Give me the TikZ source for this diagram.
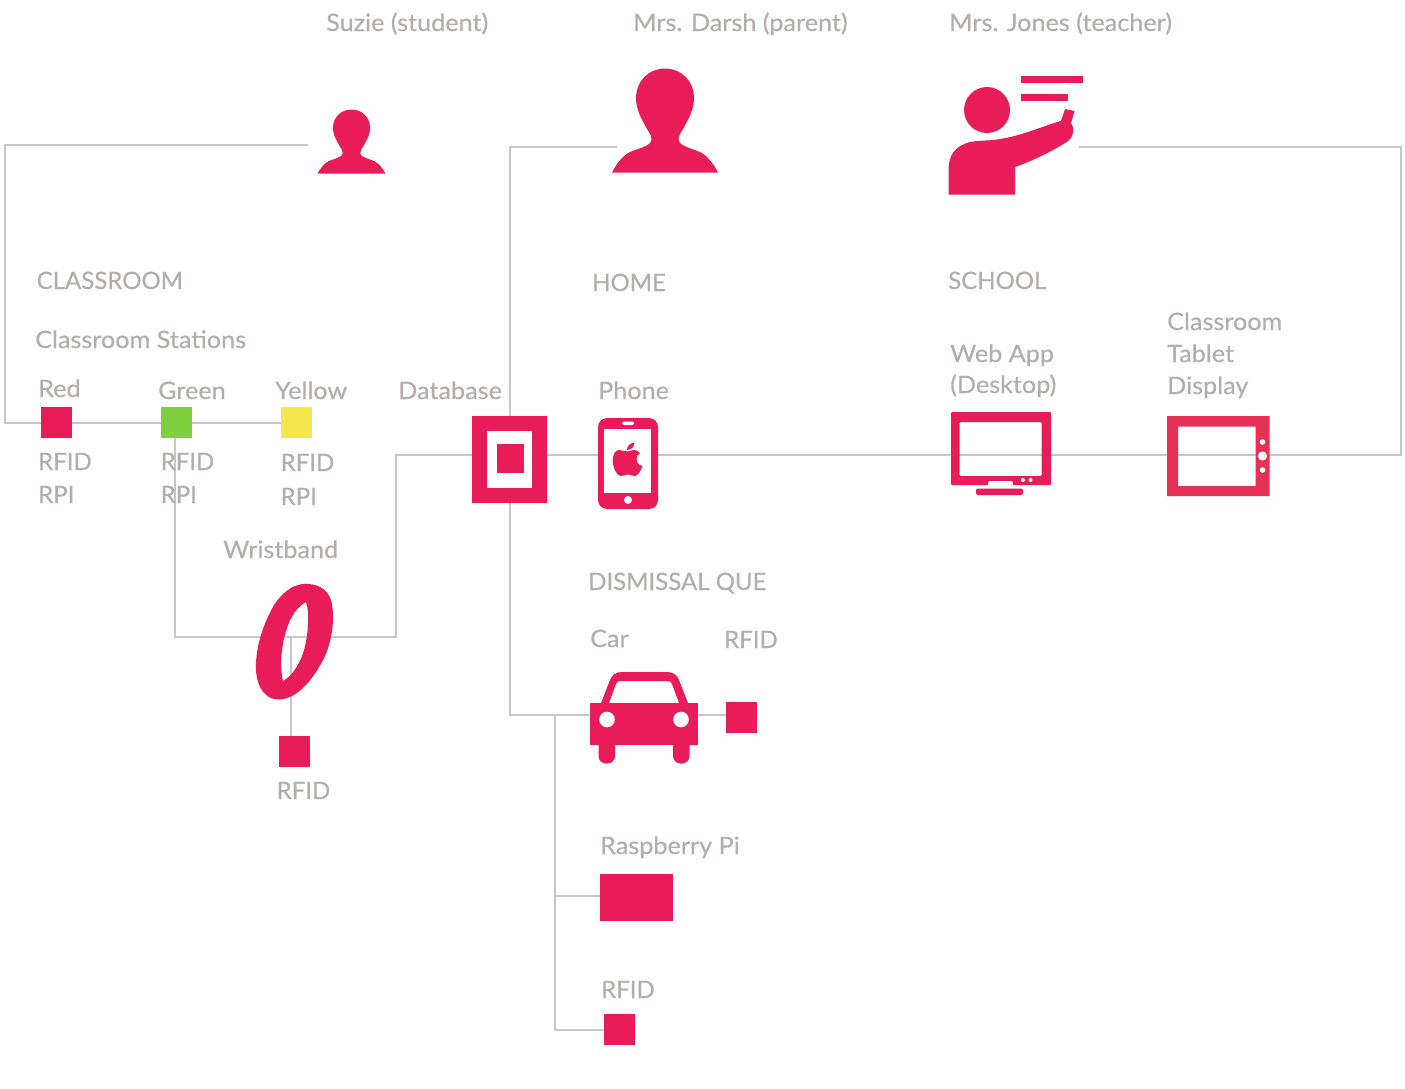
\documentclass[tikz,border=0pt]{standalone}
\usepackage{fontspec}
\setmainfont{Lato}[RawFeature={embolden=0.45}]
\newfontfamily\lowerfont{Lato}[FakeStretch=1.05,RawFeature={embolden=0.45}]
\usetikzlibrary{backgrounds}
\definecolor{rosered}{HTML}{E81C58}
\definecolor{tabletred}{HTML}{E63056}
\definecolor{linegray}{HTML}{C9C6C6}
\definecolor{labelgray}{HTML}{B3ADAD}
\definecolor{stgreen}{HTML}{7FD03F}
\definecolor{styellow}{HTML}{F6E54B}
\tikzset{
  caps text/.style={anchor=base west,inner sep=0pt,text=labelgray,font=\fontsize{24}{28}\selectfont},
  label text/.style={caps text,font=\fontsize{24}{28}\selectfont\lowerfont},
  link/.style={draw=linegray,line width=1.7pt,line join=miter},
  iconbox/.style={draw=none,fill=none,inner sep=0pt,outer sep=0pt},
  sq/.style={draw=none,inner sep=0pt,outer sep=0pt,anchor=north west,minimum width=31pt,minimum height=31pt}
}
\newcommand{\personpath}{(-53,0) .. controls (-49,-8) and (-43,-16) .. (-36,-20)
  .. controls (-28,-24) and (-14,-26) .. (-13.5,-33)
  .. controls (-13.5,-38) and (-17,-41) .. (-21,-49)
  .. controls (-26,-58) and (-29,-66) .. (-29,-74)
  .. controls (-29,-92) and (-16,-104) .. (0,-104)
  .. controls (16,-104) and (29,-92) .. (29,-74)
  .. controls (29,-66) and (26,-58) .. (21,-49)
  .. controls (17,-41) and (13.5,-38) .. (13.5,-33)
  .. controls (14,-26) and (28,-24) .. (36,-20)
  .. controls (43,-16) and (49,-8) .. (53,0) -- cycle}
\begin{document}
\begin{tikzpicture}[x=1pt,y=-1pt]
\useasboundingbox (0,0) rectangle (1405,1088);

% --- texts
\node[label text] (tSuzie) at (326,31) {Suzie (student)};
\node[label text] (tDarsh) at (633,31) {Mrs. Darsh (parent)};
\node[label text] (tJones) at (949,31) {Mrs. Jones (teacher)};
\node[caps text] (tClassroom) at (36.5,289) {CLASSROOM};
\node[label text] (tStations) at (35,348) {Classroom Stations};
\node[label text] (tRed) at (38,397) {Red};
\node[label text] (tGreen) at (158,399) {Green};
\node[label text] (tYellow) at (275,399) {Yellow};
\node[label text] (tDatabase) at (398,399) {Database};
\node[caps text] (tRfidA) at (38,470) {RFID};
\node[caps text] (tRpiA) at (38,503) {RPI};
\node[caps text] (tRfidB) at (160.5,470) {RFID};
\node[caps text] (tRpiB) at (160.5,503) {RPI};
\node[caps text] (tRfidC) at (280.5,471) {RFID};
\node[caps text] (tRpiC) at (280.5,505) {RPI};
\node[label text] (tWrist) at (223,558) {Wristband};
\node[caps text] (tRfidW) at (276.5,799) {RFID};
\node[caps text] (tHome) at (592,291) {HOME};
\node[label text] (tPhone) at (598,399) {Phone};
\node[caps text] (tQue) at (588,590) {DISMISSAL QUE};
\node[label text] (tCar) at (590,647) {Car};
\node[caps text] (tRfidCar) at (724,648) {RFID};
\node[label text] (tPi) at (600,854) {Raspberry Pi};
\node[caps text] (tRfidPi) at (601,998) {RFID};
\node[caps text] (tSchool) at (948,289) {SCHOOL};
\node[label text] (tWeb) at (950,362) {Web App};
\node[label text] (tDesk) at (950,393) {(Desktop)};
\node[label text] (tCr) at (1167,330) {Classroom};
\node[label text] (tTab) at (1167,362) {Tablet};
\node[label text] (tDisp) at (1167,394) {Display};

% --- squares
\node[sq,fill=rosered] (red) at (40.5,406.5) {};
\node[sq,fill=stgreen] (green) at (160.5,406.5) {};
\node[sq,fill=styellow] (yellow) at (280.5,407) {};
\node[sq,fill=rosered] (rfidW) at (279,735.5) {};
\node[sq,fill=rosered] (rfidCar) at (726,702) {};
\node[sq,fill=rosered,minimum width=72.5pt,minimum height=47pt] (pi) at (600,874) {};
\node[sq,fill=rosered] (rfidPi) at (604,1014) {};

% --- database
\node[sq,fill=rosered,minimum width=75pt,minimum height=87pt] (db) at (472,416) {};
\fill[white] (487,431) rectangle (532,488);
\fill[rosered] (497,444) rectangle (524,473);

% --- icon frames (invisible, for connector ends)
\node[iconbox,anchor=north west,minimum width=88pt,minimum height=64pt] (student) at (308,110) {};
\node[iconbox,anchor=north west,minimum width=118pt,minimum height=105pt] (parent) at (617,68) {};
\node[iconbox,anchor=north west,minimum width=131pt,minimum height=118pt] (teacher) at (948,76) {};
\node[iconbox,anchor=north west,minimum width=60pt,minimum height=91pt] (phone) at (598,418) {};
\node[iconbox,anchor=north west,minimum width=100pt,minimum height=73pt] (monitor) at (951,412) {};
\node[iconbox,anchor=north west,minimum width=102pt,minimum height=80pt] (tablet) at (1167,416) {};
\node[iconbox,anchor=north west,minimum width=109pt,minimum height=91pt] (car) at (589,672) {};
\node[iconbox,anchor=north west,minimum width=78pt,minimum height=116pt] (wrist) at (256,584) {};

% --- connector corners
\coordinate (cA) at (5,145);
\coordinate (cB) at (5,423);
\coordinate (cC) at (175,637);
\coordinate (cD) at (396,637);
\coordinate (cE) at (396,455);
\coordinate (cF) at (1401,455);
\coordinate (cG) at (1401,147);
\coordinate (cH) at (510,147);
\coordinate (cI) at (510,715);
\coordinate (cJ) at (555,715);
\coordinate (cK) at (555,896);
\coordinate (cL) at (555,1030);
\coordinate (cW) at (291,637);

\begin{scope}[on background layer]
  \draw[link] (student.west |- cA) -- (cA) -- (cB) -- (yellow.west |- cB);
  \draw[link] (green.south -| cC) -- (cC) -- (cD) -- (cE) -- (db.west |- cE);
  \draw[link] (cW) -- (rfidW.north -| cW);
  \draw[link] (db.east |- cF) -- (cF) -- (cG) -- (teacher.east |- cG);
  \draw[link] (db.north -| cH) -- (cH) -- (parent.west |- cH);
  \draw[link] (db.south -| cI) -- (cI) -- (car.west |- cI);
  \draw[link] (car.east |- cI) -- (rfidCar.west |- cI);
  \draw[link] (cJ) -- (cL) -- (rfidPi.west |- cL);
  \draw[link] (cK) -- (pi.west |- cK);
\end{scope}

% --- student and parent
\begin{scope}[shift={(351.5,173.5)},xscale=.64,yscale=.615]
  \fill[rosered] \personpath;
\end{scope}
\begin{scope}[shift={(665,172.5)}]
  \fill[rosered] \personpath;
\end{scope}

% --- teacher
\fill[rosered] (1021,76) rectangle (1083,82.5);
\fill[rosered] (1021,94) rectangle (1068,100.5);
\fill[rosered] (987,110) circle[radius=23];
\fill[rosered] (948.5,194.5) -- (1015,194.5) -- (1015,167)
  .. controls (1030,162) and (1055,150) .. (1068,141)
  .. controls (1074,136) and (1075,128) .. (1071,123)
  -- (1074.5,111) -- (1065,109) -- (1061,121)
  .. controls (1045,125) and (1025,135) .. (1000,139)
  .. controls (990,141) and (980,140) .. (970,142)
  .. controls (955,146) and (948.5,155) .. (948.5,170) -- cycle;

% --- phone
\fill[rosered,rounded corners=9pt] (598,418) rectangle (658,509);
\fill[white] (604,428.5) rectangle (651,493);
\fill[white,rounded corners=2pt] (622,421.5) rectangle (634,425);
\fill[white] (628,500) circle[radius=4];
\fill[rosered] (627.7,451.5) .. controls (624,451.5) and (622,450) .. (619,450)
  .. controls (615,450) and (612.7,455) .. (612.7,461)
  .. controls (612.7,468) and (617,476) .. (621,476)
  .. controls (624,476) and (625,474.5) .. (627.7,474.5)
  .. controls (630.5,474.5) and (632,476) .. (635,476)
  .. controls (638,476) and (641,470) .. (642.5,466)
  .. controls (638,465) and (636.5,462) .. (636.5,459.5)
  .. controls (636.5,456.5) and (638,454.5) .. (640,453)
  .. controls (638,450.5) and (635.5,450) .. (633.5,450)
  .. controls (631,450) and (630,451.5) .. (627.7,451.5) -- cycle;
\fill[rosered] (627,450) .. controls (627,446) and (630,443) .. (634.5,442.5)
  .. controls (634.5,446.5) and (631,450) .. (627,450) -- cycle;

% --- monitor
\fill[rosered,even odd rule,rounded corners=1pt] (951,412) rectangle (1051,485)
  (959.5,422) rectangle (1041.5,476);
\fill[white,rounded corners=2pt] (988,481) rectangle (1013,487);
\fill[rosered,rounded corners=2pt] (976,488.5) rectangle (1023,495);
\fill[white] (1023,480) circle[radius=2];
\fill[white] (1030.5,480) circle[radius=2];

% --- tablet
\fill[tabletred,even odd rule] (1167,416) rectangle (1269.5,496)
  (1178,426.5) rectangle (1255.5,486);
\fill[white] (1262.5,442) circle[radius=2.8];
\fill[white] (1262.5,456) circle[radius=4.6];
\fill[white] (1262.5,470) circle[radius=2.8];

% --- wristband
\fill[rosered,even odd rule] (303,584)
  .. controls (316,583) and (327,588) .. (331,600)
  .. controls (336,620) and (331,646) .. (322,662)
  .. controls (311,682) and (297,698) .. (280,699.5)
  .. controls (262,700) and (255,682) .. (256,663)
  .. controls (257,640) and (266,619) .. (274,605)
  .. controls (282,593) and (292,585) .. (303,584) -- cycle
  (306,602)
  .. controls (297,607) and (291,616) .. (287,628)
  .. controls (282,642) and (279,665) .. (283,681)
  .. controls (292,676) and (300,664) .. (304,650)
  .. controls (308,636) and (310,614) .. (306,602) -- cycle;

% --- car
\fill[rosered] (601,703) -- (610,680) .. controls (612,675) and (616,672) .. (622,672)
  -- (667,672) .. controls (673,672) and (677,675) .. (679,680) -- (688,703) -- (679,703)
  -- (672,684) .. controls (671,682) and (670,681) .. (668,681)
  -- (620,681) .. controls (618,681) and (617,682) .. (616,684) -- (609,703) -- cycle;
\fill[rosered] (589.5,703) rectangle (698,745);
\fill[rosered,rounded corners=7.5pt] (598.5,735) rectangle (615,763.5);
\fill[rosered,rounded corners=7.5pt] (673,735) rectangle (689.5,763.5);
\fill[white] (607,719.5) circle[radius=7.8];
\fill[white] (681,719.5) circle[radius=7.8];
\end{tikzpicture}
\end{document}
